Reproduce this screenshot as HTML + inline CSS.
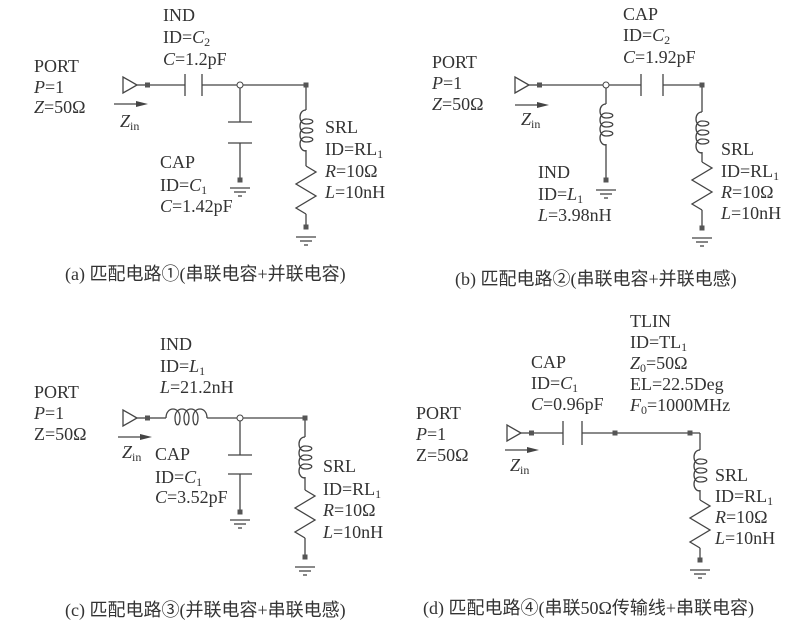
<!DOCTYPE html>
<html><head><meta charset="utf-8"><style>
body{margin:0;background:#fff}
svg{display:block}
text{font-family:"Liberation Serif","Noto Serif CJK SC",serif;font-size:18px;fill:#333}
.cap{font-family:"Liberation Serif","Noto Sans CJK SC",sans-serif;font-size:18px}
.i{font-style:italic}
</style></head><body>
<svg width="810" height="629" viewBox="0 0 810 629" xmlns="http://www.w3.org/2000/svg">
<defs>
<g id="port" fill="none" stroke="#444" stroke-width="1.3"><path d="M0,-8 L0,8 L14,0 Z"/><line x1="14" y1="0" x2="24" y2="0"/><rect x="22" y="-2.5" width="5" height="5" fill="#555" stroke="none"/></g>
<g id="sq"><rect x="-2.5" y="-2.5" width="5" height="5" fill="#555"/></g>
<g id="gnd" stroke="#444" stroke-width="1.3"><line x1="-10" y1="0" x2="10" y2="0"/><line x1="-6" y1="4" x2="6" y2="4"/><line x1="-2" y1="8" x2="2" y2="8"/></g>
<path id="coil" fill="none" stroke="#444" stroke-width="1.3" d="M0,0 c-8,0 -8,14 0,14 c9,0 9,-5 0,-5 c-8,0 -8,14 0,14 c9,0 9,-5 0,-5 c-8,0 -8,14 0,14 c9,0 9,-5 0,-5 c-8,0 -8,14 0,14"/>
<path id="coilH" fill="none" stroke="#444" stroke-width="1.3" d="M0,0 c0,-12 14,-12 14,0 c0,9 -5,9 -5,0 c0,-12 14,-12 14,0 c0,9 -5,9 -5,0 c0,-12 14,-12 14,0 c0,9 -5,9 -5,0 c0,-12 14,-12 14,0"/>
<path id="res" fill="none" stroke="#444" stroke-width="1.3" d="M0,0 l10,6 l-20,12 l20,12 l-20,12 l10,6"/>
<g id="arrow"><line x1="0" y1="0" x2="28" y2="0" stroke="#444" stroke-width="1.3"/><path d="M22,-3 L34,0 L22,3 Z" fill="#444"/></g>
</defs>
<g stroke="#444" stroke-width="1.3" fill="none">
<!-- (a) -->
<line x1="150" y1="85" x2="185" y2="85"/><line x1="185" y1="74" x2="185" y2="96"/><line x1="202" y1="74" x2="202" y2="96"/>
<line x1="202" y1="85" x2="306" y2="85"/>
<line x1="240" y1="85" x2="240" y2="122"/><line x1="228" y1="122" x2="252" y2="122"/><line x1="228" y1="143" x2="252" y2="143"/><line x1="240" y1="143" x2="240" y2="180"/>
<line x1="306" y1="85" x2="306" y2="110"/><line x1="306" y1="150" x2="306" y2="166"/><line x1="306" y1="214" x2="306" y2="227"/>
<!-- (b) -->
<line x1="542" y1="85" x2="641" y2="85"/><line x1="641" y1="74" x2="641" y2="96"/><line x1="663" y1="74" x2="663" y2="96"/><line x1="663" y1="85" x2="702" y2="85"/>
<line x1="606" y1="85" x2="606" y2="104"/><line x1="606" y1="144" x2="606" y2="180"/>
<line x1="702" y1="85" x2="702" y2="112"/><line x1="702" y1="152" x2="702" y2="162"/><line x1="702" y1="210" x2="702" y2="228"/>
<!-- (c) -->
<line x1="150" y1="418" x2="166" y2="418"/><line x1="207" y1="418" x2="305" y2="418"/>
<line x1="240" y1="418" x2="240" y2="455"/><line x1="228" y1="455" x2="252" y2="455"/><line x1="228" y1="474" x2="252" y2="474"/><line x1="240" y1="474" x2="240" y2="512"/>
<line x1="305" y1="418" x2="305" y2="437"/><line x1="305" y1="477" x2="305" y2="490"/><line x1="305" y1="538" x2="305" y2="557"/>
<!-- (d) -->
<line x1="533" y1="433" x2="563" y2="433"/><line x1="563" y1="421" x2="563" y2="445"/><line x1="582" y1="421" x2="582" y2="445"/><line x1="582" y1="433" x2="700" y2="433"/>
<line x1="700" y1="433" x2="700" y2="450"/><line x1="700" y1="490" x2="700" y2="500"/><line x1="700" y1="548" x2="700" y2="560"/>
</g>
<circle cx="240" cy="85" r="3" fill="#fff" stroke="#444"/>
<circle cx="606" cy="85" r="3" fill="#fff" stroke="#444"/>
<circle cx="240" cy="418" r="3" fill="#fff" stroke="#444"/>
<!-- a -->
<use href="#port" x="123" y="85"/><use href="#sq" x="306" y="85"/><use href="#sq" x="240" y="180"/><use href="#gnd" x="240" y="188"/>
<use href="#coil" x="306" y="110"/><use href="#res" x="306" y="166"/><use href="#sq" x="306" y="227"/><use href="#gnd" x="306" y="237"/>
<use href="#arrow" x="114" y="104"/>
<!-- b -->
<use href="#port" x="515" y="85"/><use href="#sq" x="702" y="85"/><use href="#coil" x="606" y="104"/><use href="#sq" x="606" y="180"/><use href="#gnd" x="606" y="190"/>
<use href="#coil" x="702" y="112"/><use href="#res" x="702" y="162"/><use href="#sq" x="702" y="228"/><use href="#gnd" x="702" y="238"/>
<use href="#arrow" x="515" y="105"/>
<!-- c -->
<use href="#port" x="123" y="418"/><use href="#coilH" x="166" y="418"/><use href="#sq" x="305" y="418"/><use href="#sq" x="240" y="512"/><use href="#gnd" x="240" y="520"/>
<use href="#coil" x="305" y="437"/><use href="#res" x="305" y="490"/><use href="#sq" x="305" y="557"/><use href="#gnd" x="305" y="567"/>
<use href="#arrow" x="118" y="437"/>
<!-- d -->
<use href="#port" x="507" y="433"/><use href="#sq" x="615" y="433"/><use href="#sq" x="690" y="433"/>
<use href="#coil" x="700" y="450"/><use href="#res" x="700" y="500"/><use href="#sq" x="700" y="560"/><use href="#gnd" x="700" y="570"/>
<use href="#arrow" x="505" y="450"/>

<!-- labels a -->
<text x="163" y="21">IND</text><text x="163" y="43">ID=<tspan class="i">C</tspan><tspan font-size="12" dy="3">2</tspan></text><text x="163" y="65"><tspan class="i">C</tspan>=1.2pF</text>
<text x="34" y="72">PORT</text><text x="34" y="93"><tspan class="i">P</tspan>=1</text><text x="34" y="113"><tspan class="i">Z</tspan>=50Ω</text>
<text x="120" y="127" class="i">Z<tspan font-size="12" dy="3" font-style="normal">in</tspan></text>
<text x="160" y="168">CAP</text><text x="160" y="191">ID=<tspan class="i">C</tspan><tspan font-size="12" dy="3">1</tspan></text><text x="160" y="212"><tspan class="i">C</tspan>=1.42pF</text>
<text x="325" y="133">SRL</text><text x="325" y="155">ID=RL<tspan font-size="12" dy="3">1</tspan></text><text x="325" y="177"><tspan class="i">R</tspan>=10Ω</text><text x="325" y="198"><tspan class="i">L</tspan>=10nH</text>
<text x="65" y="280" class="cap">(a) 匹配电路①(串联电容+并联电容)</text>
<!-- b -->
<text x="623" y="20">CAP</text><text x="623" y="41">ID=<tspan class="i">C</tspan><tspan font-size="12" dy="3">2</tspan></text><text x="623" y="63"><tspan class="i">C</tspan>=1.92pF</text>
<text x="432" y="68">PORT</text><text x="432" y="89"><tspan class="i">P</tspan>=1</text><text x="432" y="110"><tspan class="i">Z</tspan>=50Ω</text>
<text x="521" y="125" class="i">Z<tspan font-size="12" dy="3" font-style="normal">in</tspan></text>
<text x="538" y="178">IND</text><text x="538" y="200">ID=<tspan class="i">L</tspan><tspan font-size="12" dy="3">1</tspan></text><text x="538" y="221"><tspan class="i">L</tspan>=3.98nH</text>
<text x="721" y="155">SRL</text><text x="721" y="177">ID=RL<tspan font-size="12" dy="3">1</tspan></text><text x="721" y="198"><tspan class="i">R</tspan>=10Ω</text><text x="721" y="219"><tspan class="i">L</tspan>=10nH</text>
<text x="455" y="285" class="cap">(b) 匹配电路②(串联电容+并联电感)</text>
<!-- c -->
<text x="160" y="350">IND</text><text x="160" y="372">ID=<tspan class="i">L</tspan><tspan font-size="12" dy="3">1</tspan></text><text x="160" y="393"><tspan class="i">L</tspan>=21.2nH</text>
<text x="34" y="398">PORT</text><text x="34" y="419"><tspan class="i">P</tspan>=1</text><text x="34" y="440">Z=50Ω</text>
<text x="122" y="458" class="i">Z<tspan font-size="12" dy="3" font-style="normal">in</tspan></text>
<text x="155" y="460">CAP</text><text x="155" y="483">ID=<tspan class="i">C</tspan><tspan font-size="12" dy="3">1</tspan></text><text x="155" y="503"><tspan class="i">C</tspan>=3.52pF</text>
<text x="323" y="472">SRL</text><text x="323" y="495">ID=RL<tspan font-size="12" dy="3">1</tspan></text><text x="323" y="516"><tspan class="i">R</tspan>=10Ω</text><text x="323" y="538"><tspan class="i">L</tspan>=10nH</text>
<text x="65" y="616" class="cap">(c) 匹配电路③(并联电容+串联电感)</text>
<!-- d -->
<text x="531" y="368">CAP</text><text x="531" y="389">ID=<tspan class="i">C</tspan><tspan font-size="12" dy="3">1</tspan></text><text x="531" y="410"><tspan class="i">C</tspan>=0.96pF</text>
<text x="630" y="327">TLIN</text><text x="630" y="348">ID=TL<tspan font-size="12" dy="3">1</tspan></text><text x="630" y="369"><tspan class="i">Z</tspan><tspan font-size="12" dy="3">0</tspan><tspan dy="-3">=50Ω</tspan></text><text x="630" y="390">EL=22.5Deg</text><text x="630" y="411"><tspan class="i">F</tspan><tspan font-size="12" dy="3">0</tspan><tspan dy="-3">=1000MHz</tspan></text>
<text x="416" y="419">PORT</text><text x="416" y="440"><tspan class="i">P</tspan>=1</text><text x="416" y="461">Z=50Ω</text>
<text x="510" y="471" class="i">Z<tspan font-size="12" dy="3" font-style="normal">in</tspan></text>
<text x="715" y="481">SRL</text><text x="715" y="502">ID=RL<tspan font-size="12" dy="3">1</tspan></text><text x="715" y="523"><tspan class="i">R</tspan>=10Ω</text><text x="715" y="544"><tspan class="i">L</tspan>=10nH</text>
<text x="423" y="614" class="cap">(d) 匹配电路④(串联50Ω传输线+串联电容)</text>
</svg>
</body></html>
